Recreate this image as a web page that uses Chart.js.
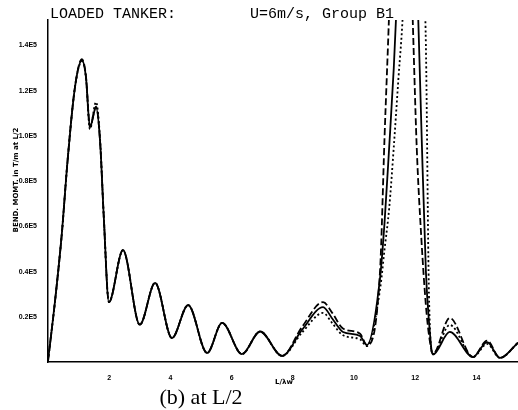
<!DOCTYPE html>
<html>
<head>
<meta charset="utf-8">
<script src="https://cdn.jsdelivr.net/npm/chart.js@4.4.1/dist/chart.umd.min.js"></script>
<style>
  body { margin: 0; background: #fff; }
  canvas { display: block; }
</style>
</head>
<body>
<canvas id="bm" width="518" height="410"></canvas>
<script>
  // L/lambda_w values, shared by the three curves
  const ratio = [0, 0.23, 0.46, 0.62, 0.88, 1.11, 1.24, 1.37, 1.57, 1.70, 1.82, 1.99,
    2.45, 3.0, 3.5, 4.05, 4.58, 5.2, 5.69, 6.34, 6.93, 7.65,
    8.3, 8.99, 9.3, 9.64, 10.2, 10.42,
    10.85, 11.0, 11.15, 11.3, 11.45, 11.6, 11.75, 11.9, 12.05, 12.2, 12.35, 12.45, 12.58,
    13.13, 13.89, 14.35, 14.77, 15.36]

  // bending moment (T.m)
  const solidVals = [500, 27000, 58000, 86000, 121500, 133500, 126000, 104000, 112500, 98000, 65000, 26500,
    49500, 16500, 35000, 10600, 25200, 4000, 17300, 3500, 13500, 2700,
    14200, 24300, 19000, 13300, 11500, 7500,
    37000, 62000, 95000, 130000, 175000, 230000, 260000, 230000, 175000, 105000, 40000, 18000, 3300,
    13300, 2200, 8800, 1800, 8500]
  const dashedVals = [500, 27000, 58000, 86000, 121500, 134000, 126500, 104000, 113000, 98000, 65000, 26500,
    49500, 16500, 35000, 10600, 25200, 4000, 17300, 3500, 13500, 2700,
    15500, 26500, 21500, 14800, 12500, 7500,
    40000, 100000, 155000, 220000, 260000, 260000, 220000, 160000, 95000, 55000, 25000, 12000, 3500,
    19500, 2200, 9500, 1800, 8500]
  const dottedVals = [500, 27000, 58000, 86000, 121500, 133000, 126000, 103000, 115000, 99000, 65000, 26500,
    49500, 16500, 35000, 10600, 25200, 4000, 17300, 3500, 13500, 2700,
    13000, 21700, 17000, 11800, 10000, 7000,
    32000, 50000, 68000, 95000, 125000, 155000, 210000, 250000, 250000, 200000, 140000, 30000, 3500,
    16400, 2200, 8000, 1800, 8500]

  const yTicks = [20000, 40000, 60000, 80000, 100000, 120000, 140000]
  const xTicks = [2, 4, 6, 8, 10, 12, 14]

  const titleLeft = 'LOADED TANKER:'
  const titleRight = 'U=6m/s, Group B1'
  const yTitle = 'BEND. MOMT. in T/m at L/2'
  const xTitle = 'L/λw'
  const caption = '(b) at L/2'

  function pts(vals) {
    return vals.map((v, i) => ({ x: ratio[i], y: v }))
  }

  const texts = {
    id: 'texts',
    afterDraw(chart) {
      const c = chart.ctx
      c.save()
      c.fillStyle = '#000'
      c.font = '15px "Liberation Mono"'
      c.fillText(titleLeft, 50, 18)
      c.fillText(titleRight, 250, 18)

      c.font = 'bold 7px "DejaVu Sans"'
      c.textAlign = 'center'
      c.fillText(xTitle, 284, 384)

      c.save()
      c.translate(16, 180)
      c.rotate(-Math.PI / 2)
      c.font = 'bold 7px "DejaVu Sans"'
      c.fillText(yTitle, 0, 2, 128)
      c.restore()

      c.font = '22px "Liberation Serif"'
      c.fillText(caption, 201, 404)
      c.restore()
    }
  }

  const line = (label, vals, dash) => ({
    label,
    data: pts(vals),
    borderColor: '#000',
    borderWidth: 1.8,
    borderDash: dash,
    pointRadius: 0,
    fill: false,
    cubicInterpolationMode: 'monotone'
  })

  new Chart(document.getElementById('bm'), {
    type: 'line',
    data: {
      datasets: [
        line('dotted', dottedVals, [2, 2.5]),
        line('dashed', dashedVals, [7, 3]),
        line('solid', solidVals, [])
      ]
    },
    options: {
      responsive: false,
      animation: false,
      layout: { padding: { top: 20, right: 0, left: 0, bottom: 0 } },
      plugins: { legend: { display: false }, tooltip: { enabled: false } },
      scales: {
        x: {
          type: 'linear',
          min: 0,
          max: 15.36,
          afterFit: s => { s.height = 48 },
          afterBuildTicks: s => { s.ticks = xTicks.map(v => ({ value: v })) },
          grid: { display: false },
          border: { display: true, color: '#000', width: 1.5 },
          ticks: { color: '#000', font: { size: 7, weight: 'bold' }, padding: 4, maxRotation: 0 }
        },
        y: {
          min: 0,
          max: 151300,
          afterFit: s => { s.width = 48 },
          afterBuildTicks: s => { s.ticks = yTicks.map(v => ({ value: v })) },
          grid: { display: false },
          border: { display: true, color: '#000', width: 1.5 },
          ticks: {
            color: '#000',
            font: { size: 7, weight: 'bold' },
            padding: 3,
            callback: v => (v / 100000).toFixed(1) + 'E5'
          }
        }
      }
    },
    plugins: [texts]
  })
</script>
</body>
</html>
